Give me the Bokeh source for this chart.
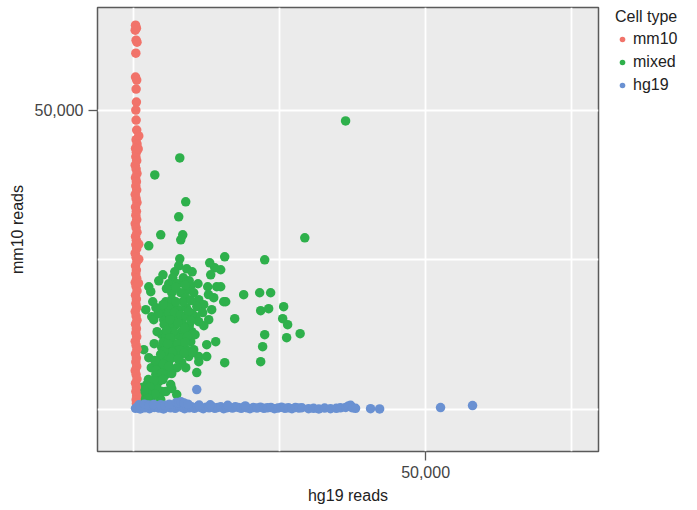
from bokeh.plotting import figure
from bokeh.models import Range1d, FixedTicker, Legend, LegendItem, NumeralTickFormatter
from bokeh.embed import file_html
from bokeh.resources import INLINE

# ---------------- data (hg19 reads, mm10 reads) ----------------
mm10_x = [300, 450, 250, 400, 550, 350, 300, 500, 400, 450,
          350, 400, 500, 850, 400, 550, 300, 450, 350, 500,
          250, 400, 550, 300, 450, 350, 500, 250, 400, 550,
          300, 450, 350, 500, 250, 400, 550, 300, 450, 350,
          500, 250, 400, 550, 300, 450, 350, 500, 250, 400,
          550, 300, 450, 350, 500, 250, 400, 550, 300, 450,
          350, 500, 250, 400, 550, 300, 450, 350, 500, 250,
          400, 550, 300, 450, 350, 500, 400, 450, 850, 850,
          800, 750]
mm10_y = [64170, 63670, 63330, 61670, 61330, 59500, 55500, 55000, 53500, 51330,
          50000, 48330, 46670, 45670, 45050, 44350, 43600, 42950, 42200, 41550,
          40800, 40150, 39400, 38700, 38050, 37300, 36650, 35900, 35200, 34550,
          33800, 33100, 32450, 31700, 31000, 30350, 29600, 28900, 28250, 27500,
          26850, 26100, 25400, 24750, 24000, 23300, 22650, 21900, 21200, 20550,
          19800, 19100, 18450, 17700, 17000, 16350, 15600, 14900, 14250, 13500,
          12800, 12150, 11400, 10700, 10050, 9300, 8600, 7950, 7200, 6500,
          5850, 5100, 4400, 3750, 3000, 2300, 1650, 1000, 27600, 25100,
          21100, 43500]

mixed_x = [36290, 7880, 3600, 8900, 7700, 4620, 8390, 8050, 2570, 29300,
           15580, 22430, 14890, 14890, 15750, 18830, 21570, 23450, 17290, 21740,
           23110, 25680, 25510, 26360, 22430, 26190, 28500, 22080, 21740, 15580,
           13010, 13870, 7880, 7700, 9070, 7020, 13180, 6680, 4280, 9760,
           9240, 2570, 2910, 12670, 14210, 6510, 8050, 10270, 5480, 6510,
           8900, 11130, 13700, 15410, 3250, 2050, 4790, 6850, 7700, 11980,
           13350, 3080, 5480, 7700, 10610, 3420, 5140, 7190, 8220, 11130,
           12840, 4790, 6510, 8220, 9930, 6510, 8220, 9760, 12500, 14040,
           4790, 7190, 8560, 10270, 1710, 2570, 8050, 9420, 11130, 12500,
           4790, 5990, 8220, 11130, 4280, 5650, 7360, 8900, 10790, 3770,
           5480, 4280, 6330, 2230, 1370, 3080, 4790, 7360, 1710, 2910,
           4620, 1370, 4450, 6000, 7500, 8500, 9500, 6000, 9000, 10000,
           7000, 9500, 6000, 8000, 10500, 5500, 7000, 9000, 6000, 7000,
           5500, 10000, 6500, 11000, 10000, 5000, 12000, 4000, 3500, 3000,
           6500, 4000, 2500, 5500, 2000, 3000, 6500,
           5000, 6000, 7000, 8000, 9000, 9800, 5200, 6200, 7600, 8700,
           9200, 6800, 5600, 7600, 6200, 8800, 5000, 7800, 6600, 5200,
           8600, 6400, 7600, 5000, 4600, 6000, 3600, 3800, 4800, 3400,
           5000, 2800, 3600, 2200, 2400, 1800, 5800, 9400, 10800, 8400,
           7200, 4200, 3800, 9800, 11800, 12800, 7200, 8800, 5600]
mixed_y = [48180, 42010, 39170, 34670, 32170, 29170, 29170, 28340, 27340, 28670,
           25500, 25000, 23340, 20500, 18000, 19170, 19500, 19500, 15170, 16500,
           16840, 17170, 15170, 14170, 12500, 12000, 12670, 10500, 8000, 7830,
           24500, 23670, 25170, 24000, 23500, 23000, 22500, 22000, 21500, 20670,
           20000, 20500, 19670, 20500, 20500, 19500, 19500, 19500, 18000, 18340,
           18670, 18340, 18670, 18000, 18000, 16670, 16670, 17170, 16670, 17500,
           16670, 15500, 15500, 15500, 15500, 15000, 15000, 15340, 14670, 14670,
           15000, 12500, 13340, 13000, 13000, 11340, 11670, 11340, 10840, 11340,
           10340, 10340, 10340, 10000, 10000, 8670, 9170, 8840, 8840, 8840,
           8000, 8000, 7830, 8000, 7000, 6670, 7000, 7000, 6170, 5830,
           5830, 4670, 4170, 4170, 3670, 3330, 3000, 2500, 2170, 1670,
           1670, 1330, 1830, 21000, 21000, 22000, 21500, 17000, 17000, 16000,
           14000, 14000, 14000, 12000, 12500, 12000, 12500, 10000, 10000, 9000,
           9000, 9500, 20000, 21000, 23000, 22500, 14000, 13000, 11000, 7000,
           6000, 3500, 5000, 3000, 1000, 2500, 3500,
           17500, 16000, 16200, 15800, 15600, 14800, 14200, 15000, 14400, 13600,
           12200, 13000, 13200, 11000, 12000, 11200, 11200, 10000, 9600, 9800,
           9400, 8600, 8400, 7600, 9200, 7200, 8200, 6600, 6000, 4800,
           5000, 3800, 2600, 2800, 1900, 3200, 11000, 16400, 17200, 18000,
           18000, 16000, 17000, 18200, 16200, 19200, 20400, 20800, 20200]

hg19_x = [300, 700, 1100, 1500, 1900, 2300, 2700, 3100, 3500, 3900,
          4300, 4700, 5100, 5500, 5900, 6300, 6700, 7100, 7500, 7900,
          8300, 8700, 9100, 9500, 9900, 10400, 10900, 11400, 11900, 12400,
          12900, 13400, 13900, 14400, 14900, 15400, 15900, 16400, 16900, 17400,
          17900, 18400, 18900, 19400, 19900, 20500, 21100, 21700, 22300, 22900,
          23500, 24100, 24700, 25300, 25900, 26500, 27100, 27700, 28300, 28800,
          29950, 30800, 31700, 32700, 33700, 34700, 35400, 36300, 36800, 37150,
          37500, 38000, 40570, 42120, 52560, 58040,
          900, 1800, 2600, 3400, 4600, 5300, 6100, 7300, 7700, 8100,
          8600, 9300, 11200, 13100, 16100, 19100, 10790]
hg19_y = [200, 450, 100, 600, 300, 700, 150, 500, 350, 650,
          250, 550, 100, 400, 600, 300, 500, 200, 700, 450,
          350, 150, 550, 300, 450, 200, 500, 350, 150, 400,
          300, 500, 200, 350, 450, 150, 300, 400, 250, 450,
          350, 200, 400, 300, 150, 350, 250, 400, 200, 300,
          350, 150, 250, 400, 200, 300, 150, 350, 250, 300,
          150, 200, 100, 250, 150, 200, 300, 350, 600, 700,
          300, 200, 150, 100, 330, 670,
          800, 900, 750, 850, 800, 700, 900, 1200, 1170, 1300,
          1100, 900, 750, 800, 700, 600, 3330]

cell_types = ["mm10", "mixed", "hg19"]
point_colors = ["#F1736A", "#2EB04B", "#6A91D2"]
x_ticks = [50000]
y_ticks = [50000]
x_grid = [0, 25000, 50000, 75000]
y_grid = [0, 25000, 50000]

FONT = "Liberation Sans"

p = figure(frame_width=501, frame_height=444,
           x_range=Range1d(-6216, 79623), y_range=Range1d(-7000, 67117),
           output_backend="svg", toolbar_location=None,
           min_border_left=97, min_border_right=99, min_border_top=7, min_border_bottom=52)

p.background_fill_color = "#EBEBEB"
p.border_fill_color = "white"
p.outline_line_color = "#5a5a5a"
p.outline_line_width = 1.5

# grid
p.xgrid.ticker = FixedTicker(ticks=x_grid)
p.ygrid.ticker = FixedTicker(ticks=y_grid)
for g in (p.xgrid, p.ygrid):
    g.grid_line_color = "white"
    g.grid_line_width = 1.8

# axes
p.xaxis.ticker = FixedTicker(ticks=x_ticks)
p.yaxis.ticker = FixedTicker(ticks=y_ticks)
for ax in (p.xaxis, p.yaxis):
    ax.formatter = NumeralTickFormatter(format="0,0")
    ax.axis_line_color = None
    ax.minor_tick_line_color = None
    ax.major_tick_in = 0
    ax.major_tick_out = 9
    ax.major_tick_line_color = "#5a5a5a"
    ax.major_tick_line_width = 1.3
    ax.major_label_text_font = FONT
    ax.major_label_text_font_size = "16px"
    ax.major_label_text_color = "#444444"
    ax.major_label_standoff = 5
    ax.axis_label_text_font = FONT
    ax.axis_label_text_font_size = "16px"
    ax.axis_label_text_font_style = "normal"
    ax.axis_label_text_color = "#222222"
    ax.axis_label_standoff = 6
p.xaxis.axis_label = "hg19 reads"
p.yaxis.axis_label = "mm10 reads"

# points
r_mixed = p.scatter(mixed_x, mixed_y, size=9.5, fill_color=point_colors[1], line_color=None)
r_mm10 = p.scatter(mm10_x, mm10_y, size=9.5, fill_color=point_colors[0], line_color=None)
r_hg19 = p.scatter(hg19_x, hg19_y, size=9.5, fill_color=point_colors[2], line_color=None)

renderers = {"mm10": r_mm10, "mixed": r_mixed, "hg19": r_hg19}
legend = Legend(items=[LegendItem(label=lab, renderers=[renderers[lab]]) for lab in cell_types],
                location=(17, 356), orientation="vertical")
legend.title = "Cell type"
legend.title_text_font = FONT
legend.title_text_font_size = "16px"
legend.title_text_font_style = "normal"
legend.title_text_color = "#222222"
legend.title_standoff = 3
legend.label_text_font = FONT
legend.label_text_font_size = "16px"
legend.label_text_color = "#222222"
legend.glyph_width = 14
legend.glyph_height = 20
legend.label_height = 20
legend.label_standoff = 4
legend.spacing = 3
legend.padding = 0
legend.margin = 0
legend.border_line_color = None
legend.background_fill_color = None
legend.background_fill_alpha = 0
p.add_layout(legend, "right")

open("out.html", "w").write(file_html(p, INLINE))
